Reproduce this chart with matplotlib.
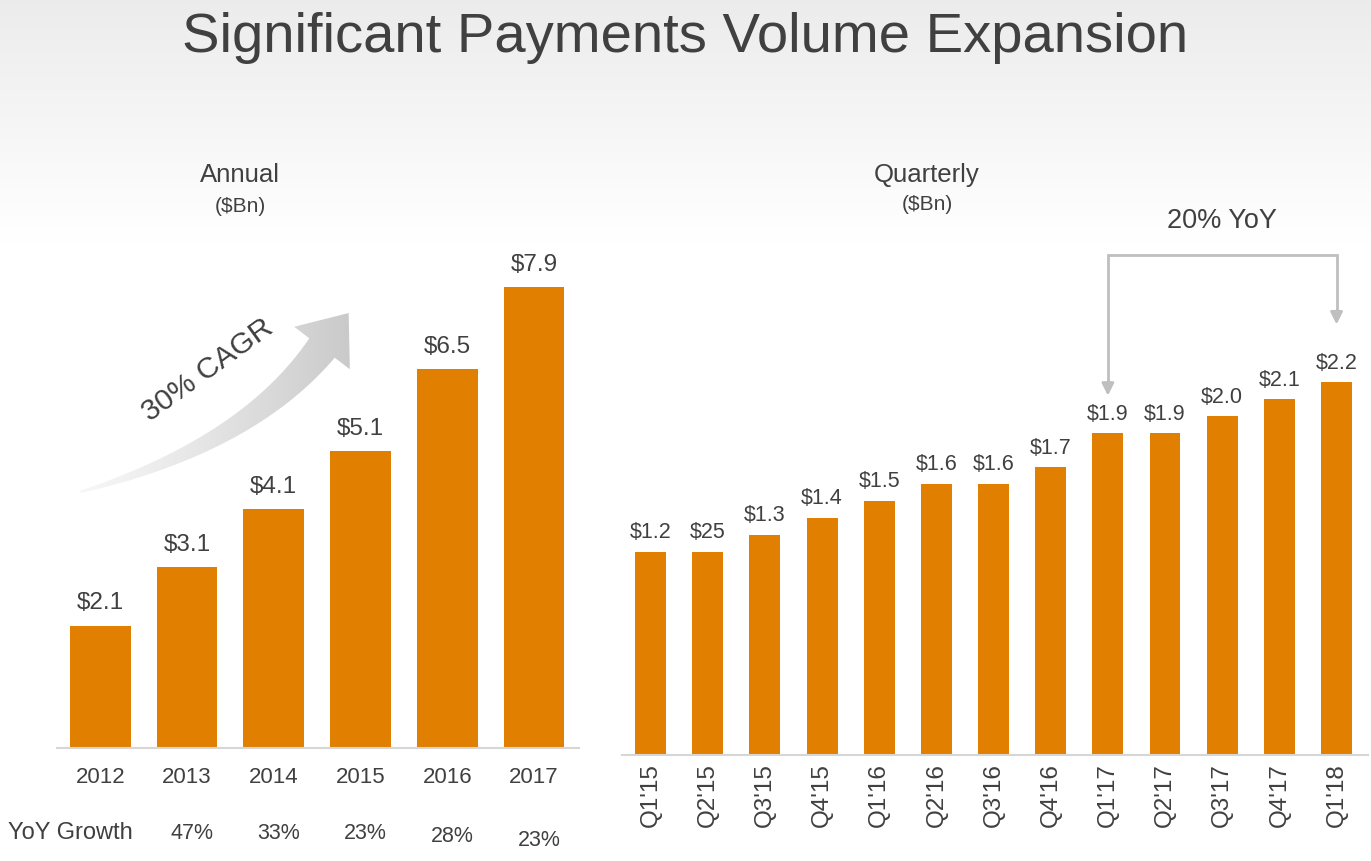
#!/usr/bin/env python

from matplotlib import pyplot as plt
from matplotlib.path import Path
from matplotlib.patches import PathPatch
import numpy as np

plt.rcParams['font.family'] = ['Liberation Sans', 'DejaVu Sans']

years = ['2012', '2013', '2014', '2015', '2016', '2017']
annual_vol = [2.1, 3.1, 4.1, 5.1, 6.5, 7.9]
annual_lbl = ['$2.1', '$3.1', '$4.1', '$5.1', '$6.5', '$7.9']
yoy_growth = ['47%', '33%', '23%', '28%', '23%']

quarters = ["Q1'15", "Q2'15", "Q3'15", "Q4'15", "Q1'16", "Q2'16", "Q3'16",
            "Q4'16", "Q1'17", "Q2'17", "Q3'17", "Q4'17", "Q1'18"]
quarter_vol = [1.2, 1.2, 1.3, 1.4, 1.5, 1.6, 1.6, 1.7, 1.9, 1.9, 2.0, 2.1, 2.2]
quarter_lbl = ['$1.2', '$25', '$1.3', '$1.4', '$1.5', '$1.6', '$1.6',
               '$1.7', '$1.9', '$1.9', '$2.0', '$2.1', '$2.2']

W, H = 1371, 861
orange = '#e07f00'
txt = '#404040'
axis_c = '#d6d6d6'

fig = plt.figure(figsize=(W/100, H/100), dpi=100)

# background: light grey fading to white near the top
bg = fig.add_axes([0, 0, 1, 1], zorder=-10)
bg.set_xlim(0, W); bg.set_ylim(H, 0); bg.axis('off')
grad = np.clip(1 - np.linspace(0, H, 400)/240, 0, 1)
shade = 1 - 0.075*grad
bg.imshow(np.tile(shade[:, None, None], (1, 2, 3)), extent=[0, W, H, 0], aspect='auto')

fig.text(0.5, 1 - 38/H, 'Significant Payments Volume Expansion', ha='center', va='center',
         fontsize=40.5, color=txt)

# ---- annual
ax1 = fig.add_axes([57/W, 1 - 748/H, 522/W, 508/H])
x1 = np.arange(len(years))
ax1.bar(x1, annual_vol, width=0.70, color=orange)
for xi, v, l in zip(x1, annual_vol, annual_lbl):
    ax1.annotate(l, (xi, v), xytext=(0, 8), textcoords='offset points', ha='center',
                 va='bottom', fontsize=17.5, color=txt)
ax1.set_xlim(-0.5, 5.52)
ax1.set_ylim(0, 508/58.3)
ax1.set_xticks(x1, years, fontsize=16, color=txt)
ax1.tick_params(length=0, pad=14)
ax1.set_yticks([])
for s in ['left', 'right', 'top']:
    ax1.spines[s].set_visible(False)
ax1.spines['bottom'].set_color(axis_c)
ax1.spines['bottom'].set_linewidth(1.5)
ax1.patch.set_alpha(0)

fig.text(240/W, 1 - 175/H, 'Annual', ha='center', va='center', fontsize=18.5, color=txt)
fig.text(240/W, 1 - 207/H, '($Bn)', ha='center', va='center', fontsize=15, color=txt)
fig.text(8/W, 1 - 833/H, 'YoY Growth', ha='left', va='center', fontsize=17, color=txt)
for k, (xi, g) in enumerate(zip(x1[1:], yoy_growth)):
    ax1.text(xi + 0.06, -1.47 - 0.04*max(0, k - 2)**1.5, g, ha='center', va='center',
             fontsize=15.5, color=txt, clip_on=False)

# ---- quarterly
ax2 = fig.add_axes([622/W, 1 - 755/H, 746/W, 525/H])
x2 = np.arange(len(quarters))
ax2.bar(x2, quarter_vol, width=0.54, color=orange)
for xi, v, l in zip(x2, quarter_vol, quarter_lbl):
    ax2.annotate(l, (xi, v), xytext=(0, 6), textcoords='offset points', ha='center',
                 va='bottom', fontsize=15.5, color=txt)
ax2.set_xlim(-0.5, 12.55)
ax2.set_ylim(0, 525/169.5)
ax2.set_xticks(x2, quarters, rotation=90, fontsize=17.5, color=txt)
ax2.tick_params(length=0, pad=6)
ax2.set_yticks([])
for s in ['left', 'right', 'top']:
    ax2.spines[s].set_visible(False)
ax2.spines['bottom'].set_color(axis_c)
ax2.spines['bottom'].set_linewidth(1.5)
ax2.patch.set_alpha(0)

fig.text(927/W, 1 - 175/H, 'Quarterly', ha='center', va='center', fontsize=18.5, color=txt)
fig.text(927/W, 1 - 205/H, '($Bn)', ha='center', va='center', fontsize=15, color=txt)

# 20% YoY bracket from Q1'17 to Q1'18
i0, i1 = quarters.index("Q1'17"), quarters.index("Q1'18")
top = 2.95
br = '#bfbfbf'
ax2.plot([i0, i0, i1, i1], [quarter_vol[i0] + 0.28, top, top, quarter_vol[i1] + 0.40],
         color=br, lw=2, clip_on=False, solid_joinstyle='miter')
for i, off in [(i0, 0.22), (i1, 0.34)]:
    ax2.annotate('', xy=(i, quarter_vol[i] + off), xytext=(i, quarter_vol[i] + off + 0.08),
                 arrowprops=dict(arrowstyle='-|>', color=br, lw=2, mutation_scale=18,
                                 shrinkA=0, shrinkB=0), annotation_clip=False)
ax2.text((i0 + i1)/2, top + 0.2, '20% YoY', ha='center', va='center', fontsize=19.5,
         color=txt, clip_on=False)

# ---- 30% CAGR curved arrow (pixel coords on an overlay)
ov = fig.add_axes([0, 0, 1, 1], zorder=5)
ov.set_xlim(0, W); ov.set_ylim(H, 0); ov.axis('off')
p0, pc, p2 = np.array([80, 492]), np.array([248, 445]), np.array([322, 348])
t = np.linspace(0, 1, 60)[:, None]
pts = (1 - t)**2*p0 + 2*(1 - t)*t*pc + t**2*p2
d = 2*(1 - t)*(pc - p0) + 2*t*(p2 - pc)
d = d/np.linalg.norm(d, axis=1)[:, None]
nrm = np.column_stack([d[:, 1], -d[:, 0]])
hw = 1 + 15*t[:, 0]**0.9
upper = pts + nrm*hw[:, None]
lower = pts - nrm*hw[:, None]
dn, nn = d[-1], nrm[-1]
tip = p2 + dn*44
poly = np.vstack([lower, [p2 - nn*35], [tip], [p2 + nn*35], upper[::-1], [lower[0]]])
patch = PathPatch(Path(poly), facecolor='none', edgecolor='none')
ov.add_patch(patch)
gx = np.linspace(0, 1, 300)
gimg = np.tile((0.97 - 0.19*gx**1.2)[None, :, None], (2, 1, 3))
im = ov.imshow(gimg, extent=[75, 365, 500, 295], aspect='auto', zorder=4)
im.set_clip_path(patch)
ov.set_xlim(0, W); ov.set_ylim(H, 0)
ov.text(208, 370, '30% CAGR', rotation=36, ha='center', va='center', fontsize=21.5,
        color=txt, rotation_mode='anchor')

plt.savefig('out.png', dpi=100)
